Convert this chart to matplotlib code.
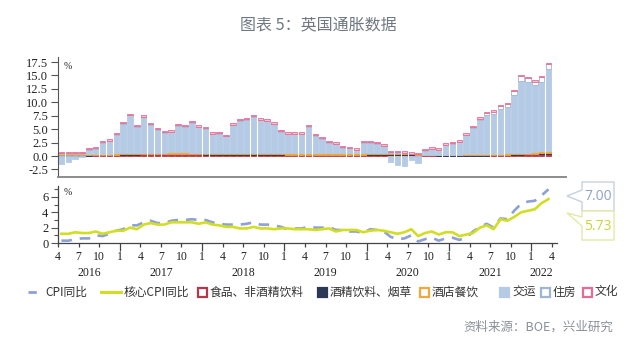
import numpy as np
import matplotlib.pyplot as plt
from matplotlib.patches import Rectangle, Polygon

# =====================
# DATA (Apr 2016 - Mar 2022, monthly)
# =====================
cpi = [0.3, 0.3, 0.5, 0.6, 0.6, 1.0, 0.9, 1.2, 1.6,
       1.8, 2.3, 2.3, 2.7, 2.9, 2.6, 2.6, 2.9, 3.0, 3.0, 3.1, 3.0,
       3.0, 2.7, 2.5, 2.4, 2.4, 2.4, 2.5, 2.7, 2.4, 2.4, 2.3, 2.1,
       1.8, 1.9, 1.9, 2.1, 2.0, 2.0, 2.1, 1.7, 1.7, 1.5, 1.5, 1.3,
       1.8, 1.7, 1.5, 0.8, 0.5, 0.6, 1.0, 0.2, 0.5, 0.7, 0.3, 0.6,
       0.7, 0.4, 0.7, 1.5, 2.1, 2.5, 2.0, 3.2, 3.1, 4.2, 5.1, 5.4,
       5.5, 6.2, 7.0]
core = [1.2, 1.2, 1.4, 1.3, 1.3, 1.5, 1.2, 1.4, 1.6,
        1.6, 2.0, 1.8, 2.4, 2.6, 2.4, 2.4, 2.7, 2.7, 2.7, 2.7, 2.5,
        2.7, 2.4, 2.3, 2.1, 2.1, 1.9, 1.9, 2.1, 1.9, 1.9, 1.8, 1.9,
        1.9, 1.8, 1.8, 1.8, 1.7, 1.8, 1.9, 1.5, 1.7, 1.7, 1.7, 1.4,
        1.6, 1.7, 1.6, 1.4, 1.2, 1.4, 1.8, 0.9, 1.3, 1.5, 1.1, 1.4,
        1.4, 0.9, 1.1, 1.3, 2.0, 2.3, 1.8, 3.1, 2.9, 3.4, 4.0, 4.2,
        4.4, 5.2, 5.73]

food = [0.05, 0.05, 0.05, 0.05, 0.05, 0.1, 0.1, 0.1, 0.15,
        0.2, 0.25, 0.25, 0.3, 0.3, 0.3, 0.3, 0.35, 0.35, 0.35, 0.3, 0.3,
        0.25, 0.25, 0.25, 0.2, 0.2, 0.2, 0.2, 0.2, 0.2, 0.2, 0.2, 0.2,
        0.15, 0.15, 0.15, 0.15, 0.15, 0.15, 0.15, 0.15, 0.15, 0.15, 0.15, 0.15,
        0.2, 0.2, 0.2, 0.25, 0.25, 0.2, 0.2, 0.15, 0.1, 0.1, 0.05, 0.05,
        0.05, 0.05, 0.05, 0.05, 0.05, 0.05, 0.1, 0.1, 0.15, 0.2, 0.25, 0.3,
        0.35, 0.4, 0.45]
alcohol = [0.1, 0.1, 0.1, 0.1, 0.1, 0.1, 0.1, 0.1, 0.1,
           0.1, 0.1, 0.1, 0.1, 0.1, 0.1, 0.1, 0.1, 0.1, 0.1, 0.1, 0.1,
           0.1, 0.1, 0.1, 0.1, 0.1, 0.1, 0.1, 0.1, 0.1, 0.1, 0.1, 0.1,
           0.1, 0.1, 0.1, 0.1, 0.1, 0.1, 0.1, 0.1, 0.1, 0.1, 0.1, 0.1,
           0.1, 0.1, 0.1, 0.1, 0.1, 0.1, 0.1, 0.1, 0.1, 0.1, 0.1, 0.1,
           0.1, 0.1, 0.1, 0.1, 0.1, 0.1, 0.1, 0.1, 0.1, 0.1, 0.1, 0.1,
           0.1, 0.1, 0.1]
hotel = [0.25, 0.25, 0.25, 0.25, 0.25, 0.25, 0.25, 0.25, 0.25,
         0.25, 0.25, 0.25, 0.25, 0.25, 0.25, 0.25, 0.25, 0.25, 0.25, 0.25, 0.25,
         0.25, 0.25, 0.25, 0.25, 0.25, 0.25, 0.25, 0.25, 0.25, 0.25, 0.25, 0.25,
         0.25, 0.25, 0.25, 0.25, 0.25, 0.25, 0.25, 0.25, 0.25, 0.25, 0.25, 0.25,
         0.25, 0.25, 0.25, 0.25, 0.25, 0.25, 0.05, 0.05, 0.05, 0.05, 0.05, 0.05,
         0.05, 0.05, 0.25, 0.25, 0.25, 0.25, 0.25, 0.25, 0.25, 0.25, 0.25, 0.25,
         0.35, 0.35, 0.35]
transport = [-1.5, -1.2, -0.55, -0.1, 0.75, 0.9, 2.05, 2.3, 3.45,
             5.5, 6.95, 4.85, 6.6, 5.2, 4.2, 3.7, 3.75, 4.9, 4.7, 5.5, 4.7,
             4.45, 3.45, 3.55, 3.1, 5.2, 6.0, 6.2, 6.8, 6.1, 5.9, 5.4, 4.0,
             3.55, 3.55, 3.55, 4.95, 3.25, 2.75, 1.95, 1.7, 1.05, 0.9, 0.55, 1.95,
             1.9, 1.7, 1.3, -1.2, -1.7, -1.8, -0.75, -1.35, 0.7, 1.0, 0.85, 1.8,
             2.1, 2.35, 3.45, 4.75, 6.25, 7.2, 7.4, 8.3, 8.65, 10.9, 13.45, 13.1,
             12.35, 13.0, 15.35]
housing = [0.1, 0.1, 0.1, 0.1, 0.1, 0.1, 0.1, 0.1, 0.1,
           0.1, 0.1, 0.1, 0.1, 0.1, 0.1, 0.1, 0.1, 0.1, 0.1, 0.1, 0.1,
           0.1, 0.1, 0.1, 0.1, 0.1, 0.1, 0.1, 0.1, 0.1, 0.1, 0.1, 0.1,
           0.1, 0.1, 0.1, 0.1, 0.1, 0.1, 0.1, 0.1, 0.1, 0.1, 0.1, 0.1,
           0.1, 0.1, 0.1, 0.1, 0.1, 0.1, 0.1, 0.1, 0.1, 0.1, 0.1, 0.1,
           0.1, 0.1, 0.1, 0.2, 0.3, 0.4, 0.4, 0.5, 0.5, 0.6, 0.8, 0.8,
           0.7, 0.8, 0.9]
culture = [0.25, 0.25, 0.25, 0.25, 0.25, 0.25, 0.25, 0.25, 0.25,
           0.25, 0.25, 0.25, 0.25, 0.25, 0.25, 0.25, 0.25, 0.25, 0.25, 0.25, 0.25,
           0.25, 0.25, 0.25, 0.25, 0.25, 0.25, 0.25, 0.25, 0.25, 0.25, 0.25, 0.25,
           0.25, 0.25, 0.25, 0.25, 0.25, 0.25, 0.25, 0.25, 0.25, 0.25, 0.25, 0.25,
           0.25, 0.25, 0.25, 0.25, 0.25, 0.25, 0.25, 0.25, 0.25, 0.25, 0.25, 0.25,
           0.25, 0.25, 0.25, 0.25, 0.25, 0.25, 0.25, 0.25, 0.25, 0.25, 0.25, 0.25,
           0.25, 0.25, 0.25]

month_ticks = ["4", "7", "10", "1"] * 6 + ["4"]
years = ["2016", "2017", "2018", "2019", "2020", "2021", "2022"]

CJK = ['Noto Sans CJK SC', 'DejaVu Sans']
SERIF = ['Liberation Serif', 'DejaVu Serif']

# name, values, face, edge, legend face
components = [
    ("食品、非酒精饮料", food, '#b8364a', '#b8364a', 'white'),
    ("酒精饮料、烟草", alcohol, '#2c3856', '#2c3856', '#2c3856'),
    ("酒店餐饮", hotel, '#f2a93b', '#f2a93b', 'white'),
    ("交运", transport, '#b5cae4', '#b5cae4', '#b5cae4'),
    ("住房", housing, 'white', '#9db6d8', 'white'),
    ("文化", culture, '#f6c3d3', '#e86b93', 'white'),
]

# =====================
# FIGURE
# =====================
W, H = 640, 352
fig = plt.figure(figsize=(6.4, 3.52), dpi=100)

ax1 = fig.add_axes([58 / W, 1 - 177 / H, 508 / W, 120 / H])
ax2 = fig.add_axes([58 / W, 1 - 243 / H, 499 / W, 57 / H])

n = len(cpi)
x = np.arange(n) + 0.5

# stacked bars, positives up from 0 and negatives down from 0
pos_bottom = np.zeros(n)
neg_bottom = np.zeros(n)
for name, vals, face, edge, _ in components:
    v = np.array(vals)
    bottom = np.where(v >= 0, pos_bottom, neg_bottom)
    ax1.bar(x, v, bottom=bottom, width=0.8, color=face, edgecolor=edge,
            linewidth=0.6)
    pos_bottom = pos_bottom + np.where(v >= 0, v, 0)
    neg_bottom = neg_bottom + np.where(v < 0, v, 0)

ax1.set_xlim(0, 508 / 6.86)
ax1.set_ylim(-3.91, 18.44)
yt = np.arange(-2.5, 17.6, 2.5)
ax1.set_yticks(yt)
ax1.set_yticklabels([f"{t:.1f}" for t in yt], family=SERIF, fontsize=9,
                    color='#222')
ax1.set_xticks([])
ax1.tick_params(axis='y', direction='out', length=5, width=0.8, pad=2,
                color='#555')
for s in ['top', 'right']:
    ax1.spines[s].set_visible(False)
ax1.spines['left'].set_color('#555')
ax1.spines['left'].set_linewidth(0.8)
ax1.spines['bottom'].set_color('#8c8c8c')
ax1.spines['bottom'].set_linewidth(1.4)
ax1.text(0.012, 0.96, "%", transform=ax1.transAxes, fontsize=7,
         family=SERIF, va='top', color='#222')

# lines
ax2.plot(x, cpi, color='#8ea1d6', lw=1.9, dashes=(4, 3), zorder=3)
ax2.plot(x, core, color='#d2de24', lw=1.9, zorder=4)
ax2.set_xlim(0, 499 / 6.86)
ax2.set_ylim(0, 7.43)
ax2.set_yticks([0, 2, 4, 6])
ax2.set_yticklabels(["0", "2", "4", "6"], family=SERIF, fontsize=9,
                    color='#222')
ax2.set_yticks([1, 3, 5, 7], minor=True)
ax2.tick_params(axis='y', which='major', direction='out', length=5,
                width=0.8, pad=2, color='#555')
ax2.tick_params(axis='y', which='minor', direction='out', length=3,
                width=0.8, color='#555')
ax2.set_xticks(np.arange(0, 73, 3))
ax2.set_xticklabels(month_ticks, family=SERIF, fontsize=8.5, color='#222')
ax2.tick_params(axis='x', direction='out', length=3, width=0.9, pad=3,
                color='#444')
for t, lab in zip(ax2.xaxis.get_major_ticks(), month_ticks):
    if lab == "1":
        t.tick1line.set_markersize(5.5)
for s in ['top', 'right']:
    ax2.spines[s].set_visible(False)
for s in ['left', 'bottom']:
    ax2.spines[s].set_color('#444')
    ax2.spines[s].set_linewidth(0.9)
ax2.text(0.012, 0.97, "%", transform=ax2.transAxes, fontsize=7,
         family=SERIF, va='top', color='#222')

# year labels centred on each year's visible months
year_start = [0, 9, 21, 33, 45, 57, 69]
year_end = [9, 21, 33, 45, 57, 69, 72]
for yr, a, b in zip(years, year_start, year_end):
    ax2.text((a + b) / 2, -0.53, yr, transform=ax2.get_xaxis_transform(),
             ha='center', va='center', family=SERIF, fontsize=8.5,
             color='#222')

# =====================
# OVERLAY (title, legend, callouts, source)
# =====================
ov = fig.add_axes([0, 0, 1, 1], zorder=-1)
ov.set_xlim(0, W)
ov.set_ylim(H, 0)
ov.axis('off')

ov.text(318, 25, "图表 5：英国通胀数据", ha='center', va='center',
        family=CJK, fontsize=11.5, color='#6f7882')

ly = 292
ov.plot([28, 42], [ly, ly], color='#8ea1d6', lw=2, dashes=(3, 2.5))
ov.text(45, ly, "CPI同比", family=CJK, fontsize=8.5, va='center',
        color='#333')
ov.plot([101, 121], [ly, ly], color='#d2de24', lw=2.2)
ov.text(124, ly, "核心CPI同比", family=CJK, fontsize=8.5, va='center',
        color='#333')
sq_x = [198, 318, 420, 500, 541, 583]
for (name, _, face, edge, lface), sx in zip(components, sq_x):
    ov.add_patch(Rectangle((sx, ly - 4.5), 9, 9, facecolor=lface,
                           edgecolor=edge, lw=1.6))
    ov.text(sx + 12, ly, name, family=CJK, fontsize=8.5, va='center',
            color='#333')

ov.text(613, 327, "资料来源：BOE，兴业研究", ha='right', va='center',
        family=CJK, fontsize=9, color='#8a9098')

# callouts for the latest values
box1 = [(582, 182), (614, 182), (614, 211), (582, 211), (582, 202),
        (567, 196), (582, 190)]
box2 = [(582, 211), (614, 211), (614, 240), (582, 240), (582, 226),
        (567, 213), (582, 217)]
fig.add_artist(Polygon([(px / W, 1 - py / H) for px, py in box1],
                       closed=True, facecolor='white', edgecolor='#c7d1e2',
                       lw=1.0, transform=fig.transFigure))
fig.add_artist(Polygon([(px / W, 1 - py / H) for px, py in box2],
                       closed=True, facecolor='white', edgecolor='#e4e9a6',
                       lw=1.0, transform=fig.transFigure))
fig.text(598 / W, 1 - 197 / H, f"{cpi[-1]:.2f}", ha='center', va='center',
         family=['Open Sans', 'DejaVu Sans'], fontsize=10, color='#8ea1c9')
fig.text(598 / W, 1 - 226 / H, f"{core[-1]:.2f}", ha='center', va='center',
         family=['Open Sans', 'DejaVu Sans'], fontsize=10, color='#cbd33a')

fig.savefig("out.png", dpi=100)
